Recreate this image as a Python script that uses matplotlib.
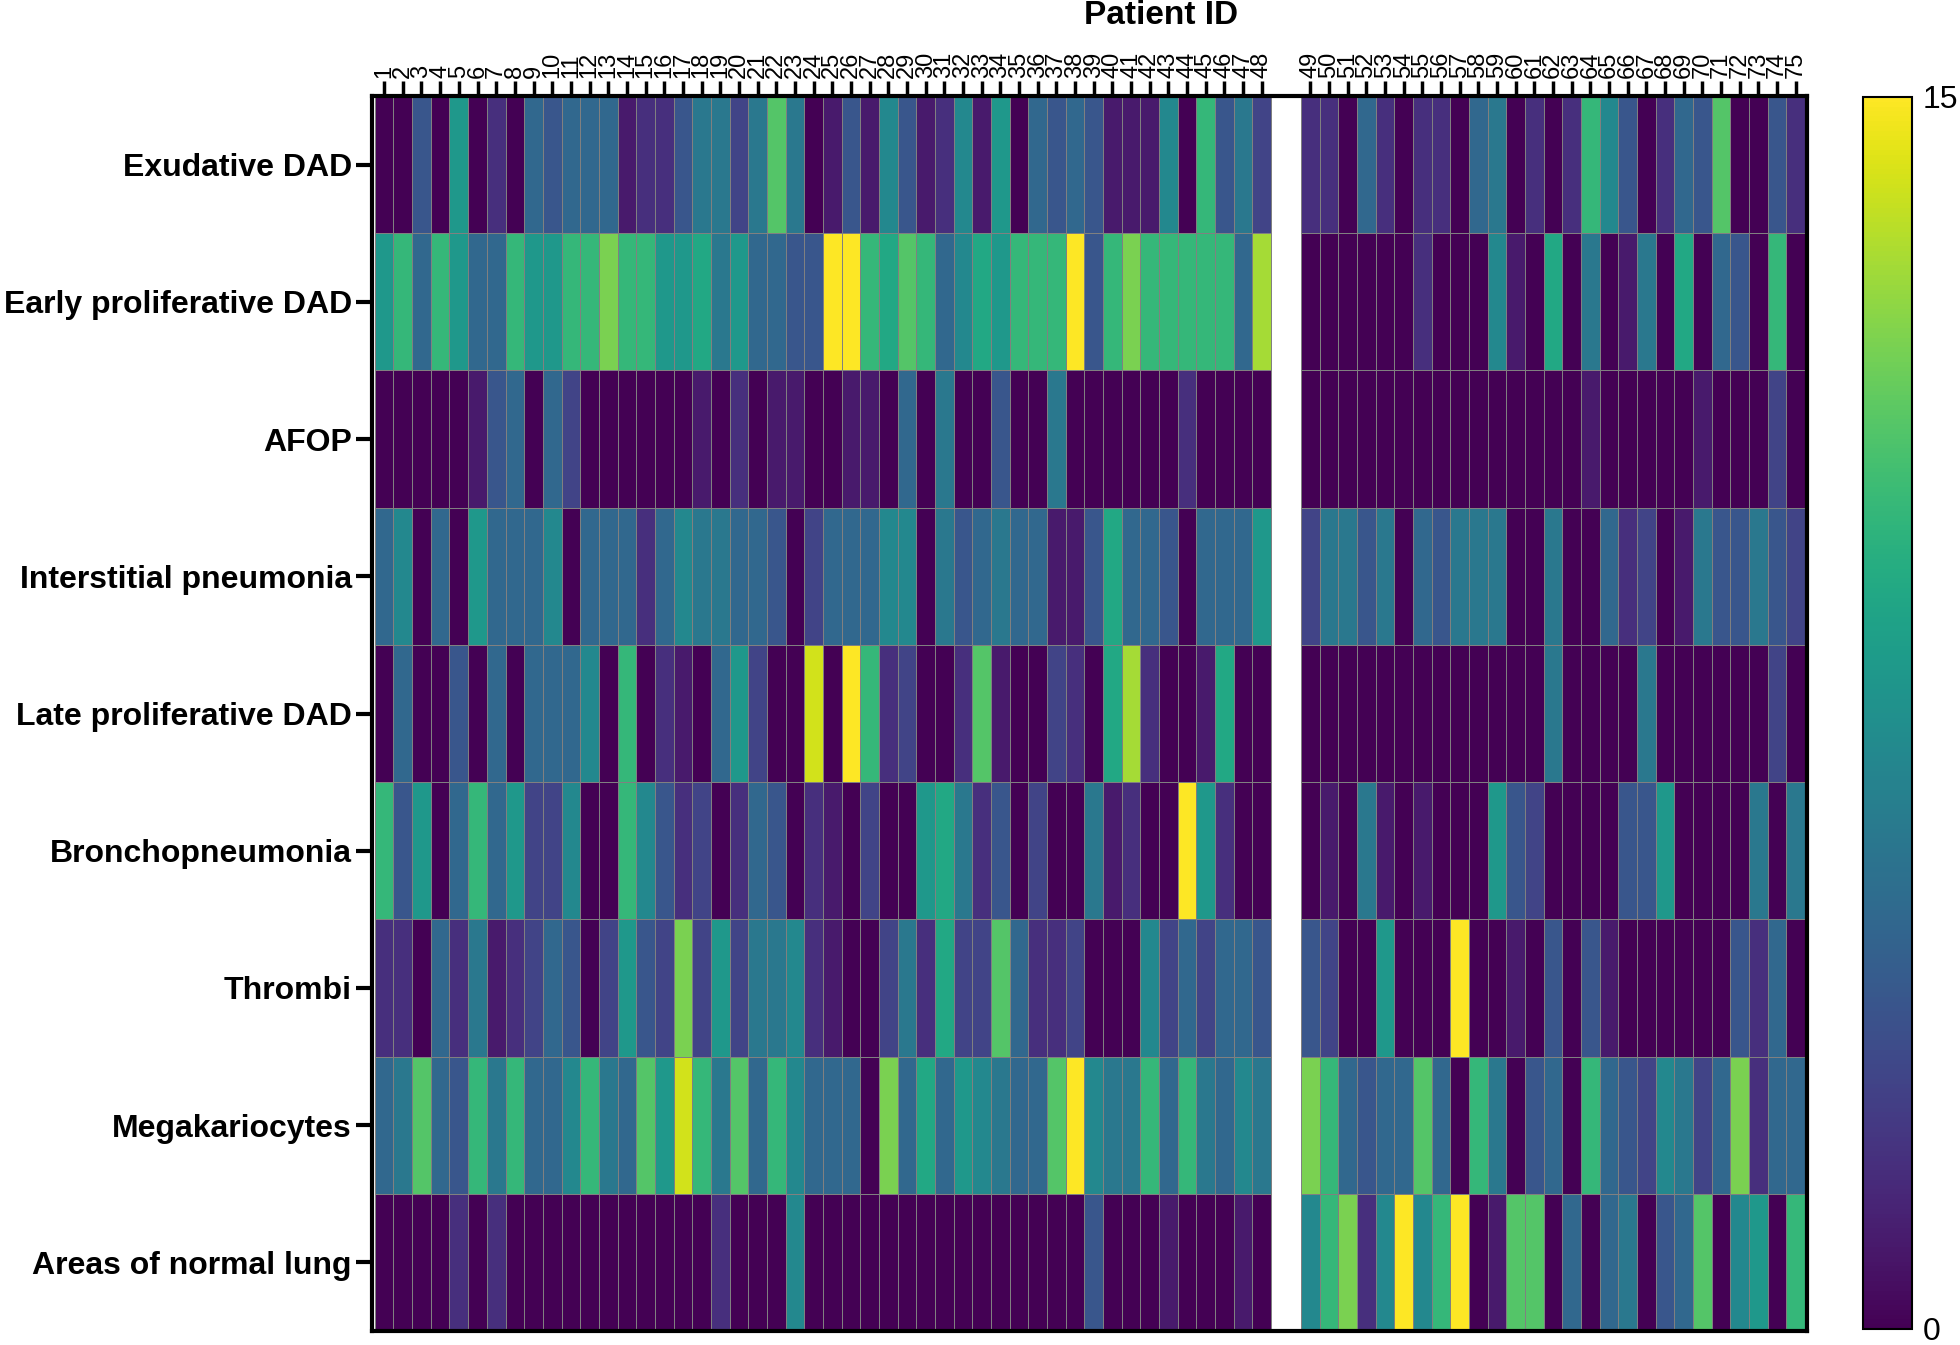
import numpy as np
import matplotlib
matplotlib.use("Agg")
import matplotlib.pyplot as plt

plt.rcParams["font.family"] = ["Liberation Sans", "DejaVu Sans"]

row_labels = [
    "Exudative DAD",
    "Early proliferative DAD",
    "AFOP",
    "Interstitial pneumonia",
    "Late proliferative DAD",
    "Bronchopneumonia",
    "Thrombi",
    "Megakariocytes",
    "Areas of normal lung",
]

patient_ids = [str(i) for i in range(1, 76)]

exudative_dad = [0, 0, 4, 0, 8, 0, 2, 0, 5, 4, 5, 5, 5, 1, 2, 2, 4, 6, 6, 3, 6, 11, 6, 0,
                 1, 4, 1, 7, 4, 1, 2, 7, 1, 8, 0, 5, 4, 5, 4, 1, 1, 1, 7, 0, 10, 4, 6, 3,
                 2, 2, 0, 5, 2, 0, 2, 2, 0, 5, 6, 0, 2, 0, 2, 10, 7, 4, 0, 2, 5, 4, 11, 0, 0, 4, 2]
early_prolif_dad = [8, 10, 5, 10, 8, 5, 5, 10, 8, 8, 10, 10, 12, 10, 10, 8, 8, 9, 6, 8, 5, 5, 4, 4,
                    15, 15, 10, 9, 11, 10, 5, 7, 9, 8, 10, 10, 10, 15, 4, 10, 12, 10, 10, 10, 10, 10, 5, 13,
                    0, 0, 0, 0, 0, 0, 2, 0, 0, 0, 7, 1, 0, 9, 0, 6, 0, 1, 6, 0, 9, 0, 5, 4, 0, 10, 0]
afop = [0, 0, 0, 0, 0, 1, 4, 5, 0, 5, 3, 0, 0, 0, 0, 0, 0, 1, 0, 2, 0, 1, 1, 0,
        0, 1, 1, 0, 5, 0, 6, 0, 0, 4, 0, 0, 6, 0, 0, 0, 0, 0, 0, 2, 0, 0, 0, 0,
        0, 0, 0, 0, 0, 0, 0, 0, 0, 0, 0, 0, 0, 0, 0, 1, 0, 0, 0, 0, 0, 1, 0, 0, 0, 3, 0]
interstitial = [5, 7, 0, 5, 0, 8, 5, 5, 5, 7, 0, 5, 5, 5, 2, 5, 7, 6, 6, 5, 5, 4, 0, 3,
                5, 5, 5, 7, 7, 0, 6, 4, 5, 6, 5, 5, 1, 1, 4, 9, 5, 5, 4, 0, 5, 5, 5, 8,
                3, 6, 6, 4, 6, 0, 5, 4, 6, 6, 6, 0, 0, 6, 0, 0, 5, 2, 3, 0, 1, 6, 4, 4, 6, 4, 3]
late_prolif_dad = [0, 5, 0, 0, 4, 0, 5, 0, 5, 5, 5, 7, 0, 10, 0, 2, 1, 0, 5, 8, 3, 0, 0, 14,
                   0, 15, 10, 2, 3, 0, 0, 2, 11, 1, 0, 0, 3, 2, 0, 9, 13, 2, 0, 0, 1, 9, 0, 0,
                   0, 0, 0, 0, 0, 0, 0, 0, 0, 0, 0, 0, 0, 6, 0, 0, 0, 0, 6, 0, 0, 0, 0, 0, 0, 3, 0]
bronchopneumonia = [10, 4, 8, 0, 5, 10, 5, 8, 3, 3, 7, 0, 0, 10, 7, 4, 2, 3, 0, 2, 5, 4, 0, 2,
                    1, 0, 3, 0, 0, 8, 9, 6, 2, 4, 0, 3, 0, 0, 6, 1, 2, 0, 0, 15, 8, 2, 0, 0,
                    0, 1, 0, 6, 1, 0, 1, 0, 0, 0, 8, 4, 3, 0, 0, 0, 0, 4, 4, 8, 0, 0, 0, 0, 6, 0, 6]
thrombi = [2, 2, 0, 5, 2, 6, 1, 2, 3, 5, 4, 0, 3, 8, 4, 3, 12, 3, 8, 3, 6, 6, 7, 2,
           1, 0, 0, 3, 6, 2, 9, 3, 3, 11, 5, 2, 2, 3, 0, 0, 0, 7, 3, 5, 3, 5, 5, 4,
           4, 3, 0, 0, 8, 0, 0, 0, 15, 0, 0, 1, 0, 4, 0, 4, 1, 0, 0, 0, 0, 0, 0, 4, 2, 5, 0]
megakariocytes = [5, 6, 11, 5, 4, 10, 6, 10, 5, 5, 7, 10, 6, 5, 11, 8, 14, 10, 6, 11, 5, 10, 7, 5,
                  5, 5, 0, 12, 5, 9, 5, 8, 7, 6, 5, 5, 11, 15, 7, 6, 6, 10, 5, 10, 6, 5, 7, 6,
                  12, 10, 5, 4, 5, 5, 11, 5, 0, 10, 6, 0, 4, 5, 0, 10, 5, 4, 3, 7, 6, 3, 5, 12, 2, 5, 5]
normal_lung = [0, 0, 0, 0, 2, 0, 2, 0, 0, 0, 0, 0, 0, 0, 0, 0, 0, 0, 2, 0, 0, 0, 7, 0,
               0, 0, 0, 0, 0, 0, 0, 0, 0, 0, 0, 0, 0, 0, 4, 0, 0, 0, 1, 0, 0, 0, 1, 0,
               7, 10, 12, 2, 7, 15, 7, 10, 15, 0, 1, 11, 11, 0, 5, 0, 5, 6, 0, 4, 5, 11, 0, 7, 8, 0, 10]

scores = np.array([exudative_dad, early_prolif_dad, afop, interstitial, late_prolif_dad,
                   bronchopneumonia, thrombi, megakariocytes, normal_lung], dtype=float)

n_left = 48        # patients before the blank separator
gap = 1.6          # width of the blank separator, in cells
n_rows, n_cols = scores.shape

fig = plt.figure(figsize=(19.6, 13.45), dpi=100)
ax = fig.add_axes([372 / 1960, 14 / 1345, 1435 / 1960, 1235 / 1345])
cax = fig.add_axes([1863 / 1960, 16 / 1345, 49 / 1960, 1232 / 1345])

y_edges = np.arange(n_rows + 1)
x_left = np.arange(n_left + 1)
x_right = np.arange(n_cols - n_left + 1) + n_left + gap

mesh_kw = dict(cmap="viridis", vmin=0, vmax=15, edgecolor="#808080", linewidth=0.6)
mesh = ax.pcolormesh(x_left, y_edges, scores[:, :n_left], **mesh_kw)
ax.pcolormesh(x_right, y_edges, scores[:, n_left:], **mesh_kw)

ax.set_xlim(-0.15, n_cols + gap + 0.1)
ax.set_ylim(n_rows, 0)

centers = np.concatenate([np.arange(n_left) + 0.5,
                          np.arange(n_cols - n_left) + n_left + gap + 0.5])
ax.set_xticks(centers)
ax.set_xticklabels(patient_ids)
ax.tick_params(axis="x", top=True, bottom=False, labeltop=True, labelbottom=False,
               length=11, width=2.5, labelsize=17, pad=2, labelrotation=90)

ax.set_yticks(np.arange(n_rows) + 0.5)
ax.set_yticklabels(row_labels, fontweight="bold")
ax.tick_params(axis="y", length=11.5, width=3, labelsize=23, pad=3)

for s in ax.spines.values():
    s.set_linewidth(3)

fig.text(1161 / 1960, 1 - 16 / 1345, "Patient ID", ha="center", va="center",
         fontsize=24, fontweight="bold")

cb = fig.colorbar(mesh, cax=cax, ticks=[0, 15])
cb.ax.tick_params(length=0, labelsize=23, pad=8)
cb.outline.set_linewidth(1.5)

fig.savefig("out.png", dpi=100)
